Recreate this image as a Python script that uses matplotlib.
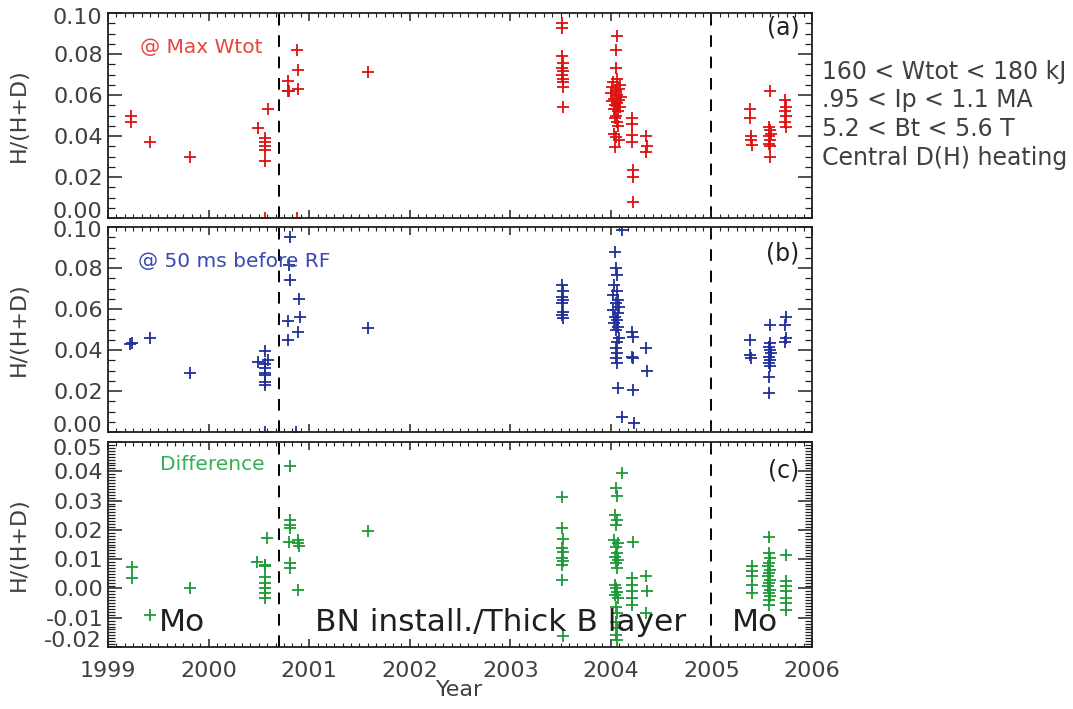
import matplotlib
matplotlib.use("Agg")
import matplotlib.pyplot as plt
from matplotlib.ticker import MultipleLocator, FuncFormatter
from matplotlib.transforms import offset_copy

# ---------------- data ----------------
years_a = [1999.23, 1999.23, 1999.42, 1999.82,
           2000.49, 2000.59, 2000.56, 2000.56, 2000.56, 2000.56, 2000.56, 2000.56,
           2000.79, 2000.79, 2000.80, 2000.89, 2000.89, 2000.88, 2000.88, 2001.59,
           2003.51, 2003.51, 2003.51, 2003.52, 2003.51, 2003.52, 2003.51, 2003.52, 2003.52, 2003.52, 2003.52,
           2004.06, 2004.05, 2004.05, 2004.06, 2004.02, 2004.09, 2004.01, 2004.08, 2004.05, 2004.00,
           2004.06, 2004.10, 2004.03, 2004.08, 2004.01, 2004.06, 2004.04, 2004.09, 2004.03, 2004.07,
           2004.05, 2004.04, 2004.06, 2004.07, 2004.03, 2004.05, 2004.08, 2004.04,
           2004.21, 2004.21, 2004.21, 2004.21, 2004.22, 2004.22, 2004.22,
           2004.35, 2004.36, 2004.35,
           2005.38, 2005.38, 2005.39, 2005.39, 2005.40,
           2005.58, 2005.57, 2005.58, 2005.59, 2005.57, 2005.58, 2005.57, 2005.58, 2005.58,
           2005.73, 2005.74, 2005.73, 2005.74, 2005.73, 2005.74]
hd_a = [0.050, 0.047, 0.037, 0.030,
        0.044, 0.053, 0.039, 0.037, 0.035, 0.033, 0.028, 0.000,
        0.067, 0.062, 0.062, 0.063, 0.072, 0.082, 0.000, 0.071,
        0.095, 0.0925, 0.079, 0.0755, 0.073, 0.0715, 0.070, 0.068, 0.0665, 0.064, 0.054,
        0.089, 0.082, 0.073, 0.068, 0.0665, 0.065, 0.064, 0.063, 0.062, 0.061,
        0.060, 0.059, 0.058, 0.0575, 0.057, 0.056, 0.055, 0.054, 0.053, 0.052,
        0.050, 0.0486, 0.047, 0.045, 0.041, 0.0397, 0.038, 0.0348,
        0.0486, 0.046, 0.0405, 0.037, 0.0234, 0.020, 0.008,
        0.040, 0.035, 0.032,
        0.053, 0.049, 0.040, 0.038, 0.0356,
        0.062, 0.0445, 0.043, 0.041, 0.040, 0.038, 0.036, 0.035, 0.030,
        0.0575, 0.054, 0.052, 0.050, 0.047, 0.0445]

years_b = [1999.22, 1999.24, 1999.42, 1999.82,
           2000.56, 2000.56, 2000.56, 2000.56, 2000.56, 2000.56, 2000.56, 2000.56,
           2000.49, 2000.59,
           2000.81, 2000.80, 2000.81, 2000.79, 2000.79, 2000.90, 2000.91, 2000.89, 2000.87,
           2001.59,
           2003.51, 2003.52, 2003.51, 2003.52, 2003.51, 2003.52, 2003.51, 2003.52,
           2004.11, 2004.04, 2004.05, 2004.06, 2004.03, 2004.06, 2004.02, 2004.07, 2004.05,
           2004.08, 2004.02, 2004.07, 2004.04, 2004.06, 2004.03, 2004.07, 2004.05, 2004.08,
           2004.06, 2004.05, 2004.06, 2004.05, 2004.06, 2004.07, 2004.11,
           2004.21, 2004.22, 2004.21, 2004.22, 2004.22, 2004.23,
           2004.35, 2004.36,
           2005.38, 2005.38, 2005.39,
           2005.58, 2005.58, 2005.57, 2005.58, 2005.59, 2005.57, 2005.58, 2005.57, 2005.58, 2005.57, 2005.57,
           2005.74, 2005.73, 2005.74, 2005.73]
hd_b = [0.043, 0.0435, 0.046, 0.029,
        0.0395, 0.033, 0.031, 0.029, 0.028, 0.0245, 0.023, 0.000,
        0.034, 0.035,
        0.095, 0.0815, 0.074, 0.054, 0.045, 0.065, 0.056, 0.0486, 0.000,
        0.0506,
        0.0717, 0.069, 0.066, 0.0644, 0.063, 0.0587, 0.057, 0.0555,
        0.0985, 0.0877, 0.080, 0.0766, 0.0717, 0.069, 0.0668, 0.0644, 0.0628,
        0.061, 0.0595, 0.058, 0.0563, 0.0546, 0.053, 0.0514, 0.0498, 0.0457,
        0.0441, 0.0408, 0.0384, 0.036, 0.0335, 0.0213, 0.0075,
        0.049, 0.0465, 0.0367, 0.036, 0.0205, 0.0042,
        0.041, 0.030,
        0.045, 0.0376, 0.036,
        0.052, 0.0433, 0.0416, 0.040, 0.0384, 0.0367, 0.035, 0.0335, 0.032, 0.027, 0.019,
        0.056, 0.052, 0.0457, 0.0441]

years_c = [1999.24, 1999.24, 1999.42, 1999.82,
           2000.48, 2000.58, 2000.56, 2000.56, 2000.56, 2000.56, 2000.56, 2000.56, 2000.56,
           2000.81, 2000.81, 2000.81, 2000.81, 2000.80, 2000.81, 2000.81,
           2000.89, 2000.89, 2000.90, 2000.89, 2001.59,
           2003.51, 2003.51, 2003.52, 2003.51, 2003.52, 2003.51, 2003.52, 2003.51, 2003.51, 2003.52,
           2004.11, 2004.05, 2004.06, 2004.04, 2004.06, 2004.05, 2004.03, 2004.07, 2004.05,
           2004.06, 2004.04, 2004.07, 2004.05, 2004.06, 2004.04, 2004.05, 2004.06,
           2004.04, 2004.07, 2004.05, 2004.06, 2004.05, 2004.06, 2004.05, 2004.06,
           2004.22,
           2004.21, 2004.21, 2004.21, 2004.21, 2004.21,
           2004.35, 2004.36, 2004.35,
           2005.40, 2005.40, 2005.40, 2005.40, 2005.40,
           2005.57, 2005.57, 2005.58, 2005.57, 2005.56, 2005.58, 2005.57, 2005.56,
           2005.58, 2005.57, 2005.56, 2005.58, 2005.57, 2005.58, 2005.57, 2005.57,
           2005.74, 2005.74, 2005.74, 2005.74, 2005.74, 2005.74, 2005.74]
hd_c = [0.0074, 0.0035, -0.009, 0.0002,
        0.0091, 0.0172, 0.0081, 0.0075, 0.0038, 0.0018, 0.0, -0.0017, -0.0034,
        0.0417, 0.0235, 0.0218, 0.0206, 0.016, 0.0087, 0.007,
        0.0167, 0.0155, 0.0144, -0.0005, 0.0195,
        0.0311, 0.0206, 0.0168, 0.0138, 0.0126, 0.0103, 0.0092, 0.0081, 0.003, -0.0164,
        0.0394, 0.0342, 0.0314, 0.0251, 0.0234, 0.0217, 0.0166, 0.0155, 0.0143,
        0.012, 0.0109, 0.0098, 0.0086, 0.0069, 0.0013, 0.0, -0.0011,
        -0.0022, -0.0034, -0.0062, -0.0085, -0.0113, -0.0136, -0.0159, -0.0176,
        0.0157,
        0.0035, 0.0013, -0.001, -0.0033, -0.0056,
        0.0044, -0.001, -0.0085,
        0.0075, 0.0058, 0.0041, 0.0013, -0.0016,
        0.0174, 0.012, 0.0103, 0.0087, 0.0075, 0.0064, 0.0052, 0.0041,
        0.003, 0.0018, 0.0007, -0.0005, -0.0016, -0.0027, -0.0039, -0.0056,
        0.0113, 0.0024, 0.0007, -0.001, -0.0033, -0.005, -0.0073]

boundaries = [2000.70, 2005.0]
year_ticks = [1999, 2000, 2001, 2002, 2003, 2004, 2005, 2006]
side_lines = ["160 < Wtot < 180 kJ", ".95 < Ip < 1.1 MA", "5.2 < Bt < 5.6 T",
              "Central D(H) heating"]

# ---------------- styles ----------------
plt.rcParams['font.family'] = ['DejaVu Sans']
W, H = 1073, 709
fig = plt.figure(figsize=(W / 100, H / 100), dpi=100)

def ax_rect(top, bottom, left=108, right=812):
    return [left / W, 1 - bottom / H, (right - left) / W, (bottom - top) / H]

tick_col = '#404040'
red, blue, green = '#dd1111', '#1f2f9a', '#1c9a36'
LABEL_FS = 16

specs = [
    (ax_rect(13, 218), years_a, hd_a, red, (0, 0.1), 0.02, 0.005, (-5, 6)),
    (ax_rect(227, 432), years_b, hd_b, blue, (0, 0.1), 0.02, 0.005, (-4, 6)),
    (ax_rect(442, 647), years_c, hd_c, green, (-0.02, 0.05), 0.01, 0.001, (-7, 6)),
]
axes = []
for rect, xs, ys, col, ylim, maj, mnr, shifts in specs:
    ax = fig.add_axes(rect)
    ax.plot(xs, ys, linestyle='none', marker='+', color=col, ms=9, mew=1.3)
    ax.set_xlim(1999, 2006)
    ax.set_ylim(*ylim)
    lo, hi = ylim
    ax.yaxis.set_major_locator(MultipleLocator(maj))
    ax.yaxis.set_minor_locator(MultipleLocator(mnr))
    ax.xaxis.set_major_locator(MultipleLocator(1))
    ax.xaxis.set_minor_locator(MultipleLocator(1 / 12))
    # extreme labels are drawn separately, nudged inward as in the reference
    ax.yaxis.set_major_formatter(FuncFormatter(
        lambda v, p, lo=lo, hi=hi: '' if (abs(v - lo) < 1e-9 or abs(v - hi) < 1e-9)
        else ('%.2f' % v).replace('-0.00', '0.00')))
    ax.tick_params(axis='both', which='both', direction='in', top=True, right=True,
                   color='#202020', labelcolor=tick_col, labelsize=LABEL_FS)
    ax.tick_params(axis='y', which='major', length=10, width=1.1)
    ax.tick_params(axis='y', which='minor', length=5, width=0.9)
    ax.tick_params(axis='x', which='major', length=6, width=1.1, pad=10)
    ax.tick_params(axis='x', which='minor', length=3, width=0.8)
    for s in ax.spines.values():
        s.set_linewidth(1.3)
        s.set_color('#202020')
    for b in boundaries:
        ax.axvline(b, color='black', lw=1.4, ls=(0, (6, 5)), zorder=1)
    ytrans = ax.get_yaxis_transform()
    top_tr = offset_copy(ytrans, fig=fig, x=-6, y=shifts[0], units='dots')
    bot_tr = offset_copy(ytrans, fig=fig, x=-6, y=shifts[1], units='dots')
    ax.text(0, hi, '%.2f' % hi, transform=top_tr, ha='right', va='center',
            fontsize=LABEL_FS, color=tick_col)
    ax.text(0, lo, '%.2f' % lo, transform=bot_tr, ha='right', va='center',
            fontsize=LABEL_FS, color=tick_col)
    ax.set_ylabel('H/(H+D)', fontsize=16, color=tick_col)
    ax.yaxis.set_label_coords(-0.112, 0.5)
    axes.append(ax)

ax_a, ax_b, ax_c = axes
ax_a.set_xticklabels([])
ax_b.set_xticklabels([])
ax_c.set_xticks(year_ticks)
ax_c.set_xticklabels([str(y) for y in year_ticks])
ax_c.set_xlabel('Year', fontsize=LABEL_FS, color=tick_col, labelpad=-1)

# annotations
ax_a.text(1999.32, 0.083, '@ Max Wtot', color='#e8453c', fontsize=14.5, va='center')
ax_b.text(1999.30, 0.083, '@ 50 ms before RF', color='#3a4ab0', fontsize=14.5, va='center')
ax_c.text(1999.52, 0.0423, 'Difference', color='#33b050', fontsize=14.5, va='center')
for ax, lab, yy in [(ax_a, '(a)', 0.93), (ax_b, '(b)', 0.873), (ax_c, '(c)', 0.863)]:
    ax.text(0.982, yy, lab, transform=ax.transAxes, ha='right', va='center',
            fontsize=17, color='#202020')
ax_c.text(0.072, 0.12, 'Mo', transform=ax_c.transAxes, fontsize=22.5, va='center',
          color='#202020')
ax_c.text(0.294, 0.12, 'BN install./Thick B layer', transform=ax_c.transAxes,
          fontsize=22.5, va='center', color='#202020')
ax_c.text(0.886, 0.12, 'Mo', transform=ax_c.transAxes, fontsize=22.5, va='center',
          color='#202020')

for i, line in enumerate(side_lines):
    fig.text(822 / W, 1 - (72 + 28.5 * i) / H, line, fontsize=17, color=tick_col,
             va='center', ha='left')

fig.savefig('out.png', dpi=100, facecolor='white')
